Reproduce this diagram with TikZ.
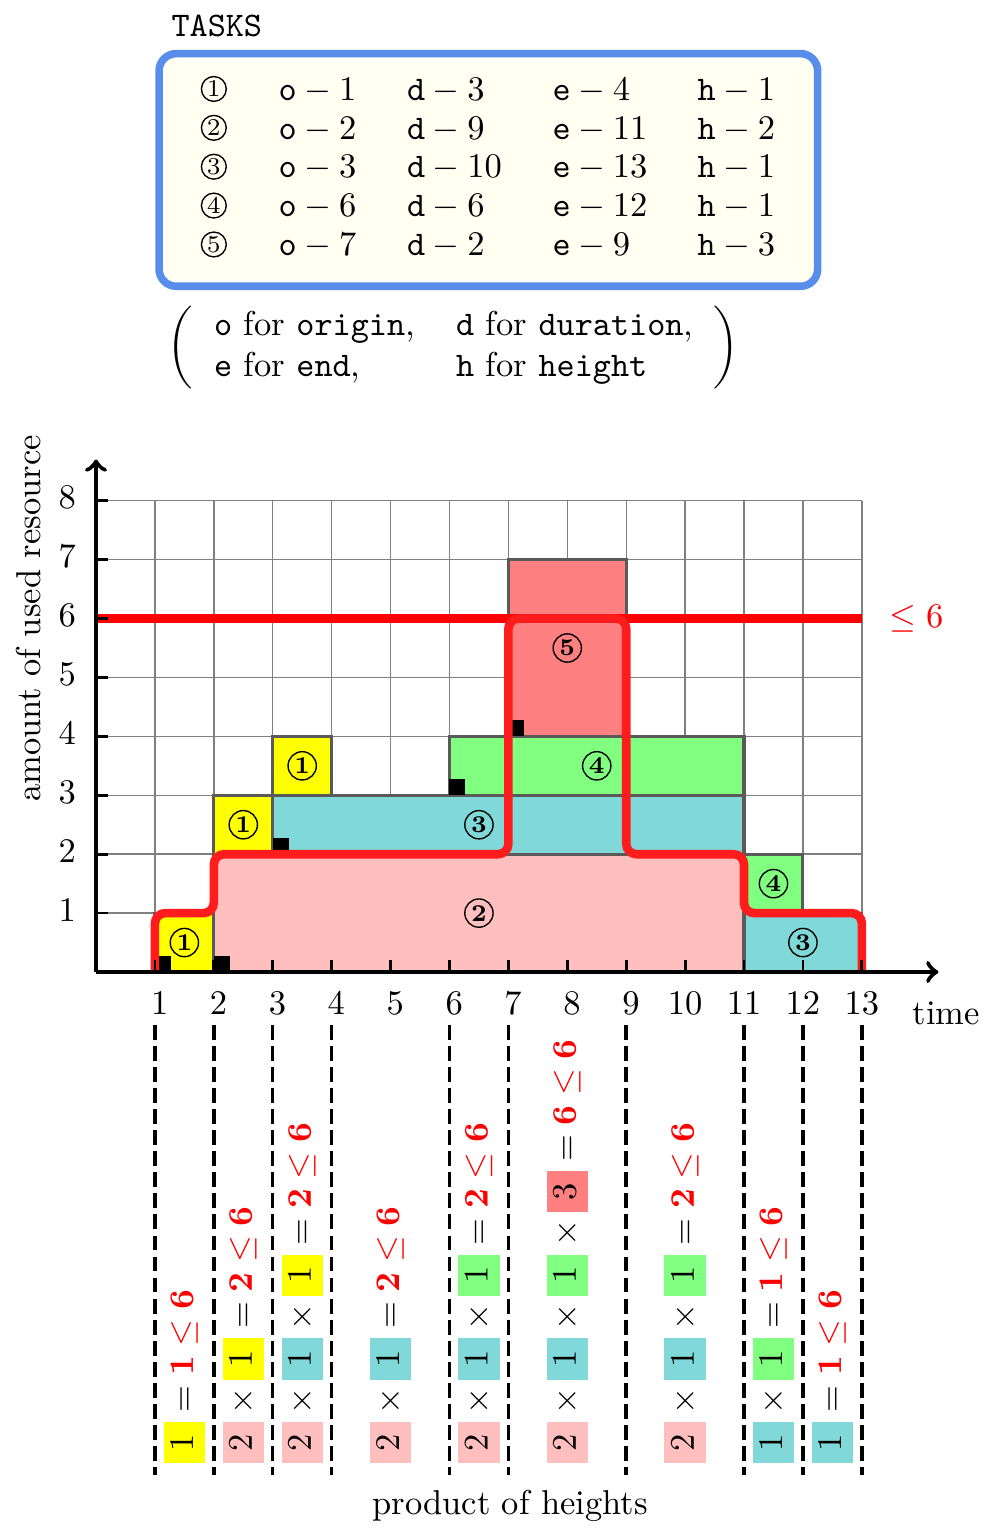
\documentclass[tikz,border=0pt]{standalone}
\usepackage{amsmath}
\definecolor{taskyellow}{RGB}{255,255,0}
\definecolor{taskpink}{RGB}{255,191,191}
\definecolor{taskcyan}{RGB}{128,216,216}
\definecolor{taskgreen}{RGB}{128,255,128}
\definecolor{taskred}{RGB}{255,128,128}
\definecolor{frameblue}{RGB}{88,141,236}
\definecolor{framefill}{RGB}{255,255,242}
\definecolor{profilered}{RGB}{255,28,28}
\definecolor{taskborder}{RGB}{90,90,90}
\newcommand{\hq}[2]{{\setlength{\fboxsep}{0pt}\colorbox{#1}{\makebox[12pt]{\rule[-3.5pt]{0pt}{12pt}\(#2\)}}}}
\tikzset{
    task/.style={draw=taskborder, line width=0.9pt},
    circnum/.style={circle, draw, thin, inner sep=0pt, minimum size=8.2pt, font=\scriptsize\bfseries},
    tabnum/.style={circle, draw, thin, inner sep=0pt, minimum size=7.2pt, font=\scriptsize},
    tabtext/.style={anchor=base west, inner sep=0pt},
    prodcol/.style={rotate=90, anchor=west, inner sep=0pt},
    sepline/.style={line width=1pt, dash pattern=on 4.3pt off 1.8pt}
}
\begin{document}
\begin{tikzpicture}[x=0.6cm, y=0.6cm]
                \useasboundingbox (-1.63,-9.54) rectangle (15.23,16.5);
                \node[tabtext] (title) at (1.27,15.88) {\texttt{TASKS}};
                \draw[frameblue, line width=2.2pt, fill=framefill, rounded corners=5pt] (1.07,11.64) rectangle (12.25,15.59);
                \node[tabnum] (n1) at (2,14.99) {1};
                \node[tabtext] (o1) at (3.09,14.8) {\(\mathtt{o}-1\)};
                \node[tabtext] (d1) at (5.27,14.8) {\(\mathtt{d}-3\)};
                \node[tabtext] (e1) at (7.74,14.8) {\(\mathtt{e}-4\)};
                \node[tabtext] (h1) at (10.2,14.8) {\(\mathtt{h}-1\)};
                \node[tabnum] (n2) at (2,14.33) {2};
                \node[tabtext] (o2) at (3.09,14.14) {\(\mathtt{o}-2\)};
                \node[tabtext] (d2) at (5.27,14.14) {\(\mathtt{d}-9\)};
                \node[tabtext] (e2) at (7.74,14.14) {\(\mathtt{e}-11\)};
                \node[tabtext] (h2) at (10.2,14.14) {\(\mathtt{h}-2\)};
                \node[tabnum] (n3) at (2,13.67) {3};
                \node[tabtext] (o3) at (3.09,13.48) {\(\mathtt{o}-3\)};
                \node[tabtext] (d3) at (5.27,13.48) {\(\mathtt{d}-10\)};
                \node[tabtext] (e3) at (7.74,13.48) {\(\mathtt{e}-13\)};
                \node[tabtext] (h3) at (10.2,13.48) {\(\mathtt{h}-1\)};
                \node[tabnum] (n4) at (2,13.01) {4};
                \node[tabtext] (o4) at (3.09,12.82) {\(\mathtt{o}-6\)};
                \node[tabtext] (d4) at (5.27,12.82) {\(\mathtt{d}-6\)};
                \node[tabtext] (e4) at (7.74,12.82) {\(\mathtt{e}-12\)};
                \node[tabtext] (h4) at (10.2,12.82) {\(\mathtt{h}-1\)};
                \node[tabnum] (n5) at (2,12.35) {5};
                \node[tabtext] (o5) at (3.09,12.16) {\(\mathtt{o}-7\)};
                \node[tabtext] (d5) at (5.27,12.16) {\(\mathtt{d}-2\)};
                \node[tabtext] (e5) at (7.74,12.16) {\(\mathtt{e}-9\)};
                \node[tabtext] (h5) at (10.2,12.16) {\(\mathtt{h}-3\)};
                \node (legend) at (6.07,10.6) {\(\left(\begin{tabular}{ll}
                    \texttt{o} for \texttt{origin}, & \texttt{d} for \texttt{duration},\\
                    \texttt{e} for \texttt{end}, & \texttt{h} for \texttt{height}
                \end{tabular}\right)\)};
                \draw[gray, thin, step=1] (0,0) grid (13,8);
                \draw[task, fill=taskpink] (2,0) rectangle (11,2);
                \draw[task, fill=taskyellow] (1,0) rectangle (2,1);
                \draw[task, fill=taskyellow] (2,2) rectangle (3,3);
                \draw[task, fill=taskyellow] (3,3) rectangle (4,4);
                \draw[task, fill=taskcyan] (3,2) rectangle (11,3);
                \draw[task, fill=taskcyan] (11,0) rectangle (13,1);
                \draw[task, fill=taskgreen] (6,3) rectangle (11,4);
                \draw[task, fill=taskgreen] (11,1) rectangle (12,2);
                \draw[task, fill=taskred] (7,4) rectangle (9,7);
                \fill (1,0) rectangle (1.27,0.27);
                \fill (2,0) rectangle (2.27,0.27);
                \fill (3,2) rectangle (3.27,2.27);
                \fill (6,3) rectangle (6.27,3.27);
                \fill (7,4) rectangle (7.27,4.27);
                \node[circnum] (c1a) at (1.5,0.5) {1};
                \node[circnum] (c1b) at (2.5,2.5) {1};
                \node[circnum] (c1c) at (3.5,3.5) {1};
                \node[circnum] (c2) at (6.5,1) {2};
                \node[circnum] (c3a) at (6.5,2.5) {3};
                \node[circnum] (c3b) at (12,0.5) {3};
                \node[circnum] (c4a) at (8.5,3.5) {4};
                \node[circnum] (c4b) at (11.5,1.5) {4};
                \node[circnum] (c5) at (8,5.5) {5};
                \draw[red, line width=2.4pt] (0,6) -- (13,6);
                \node[red, anchor=west, inner sep=0pt] (limit) at (13.46,6) {\(\leq 6\)};
                \draw[profilered, line width=2.5pt, rounded corners=3pt] (1,0) |- (2,1) |- (7,2) |- (9,6) |- (11,2) |- (13,1) -- (13,0);
                \foreach \x in {1,...,13} \draw[thick] (\x,0) -- (\x,0.2);
                \foreach \y in {1,...,8} \draw[thick] (0,\y) -- (0.2,\y);
                \draw[->, line width=1.3pt] (0,0) -- (14.3,0);
                \draw[->, line width=1.3pt] (0,0) -- (0,8.7);
                \foreach \x in {1,...,9} \node (xl\x) at (\x+0.08,-0.53) {\(\x\)};
                \foreach \x in {10,...,13} \node (xl\x) at (\x,-0.53) {\(\x\)};
                \foreach \y in {1,...,8} \node (yl\y) at (-0.49,\y+0.05) {\(\y\)};
                \node[anchor=west, inner sep=0pt] (time) at (13.85,-0.7) {time};
                \node[rotate=90] (amount) at (-1.15,6) {amount of used resource};
                \foreach \x in {1,2,3,4,6,7,9,11,12,13} \draw[sepline] (\x,-0.9) -- (\x,-8.54);
                \node[prodcol] (p1) at (1.5,-8.35) {\(\hq{taskyellow}{1} = \textcolor{red}{\mathbf{1}\leq\mathbf{6}}\)};
                \node[prodcol] (p2) at (2.5,-8.35) {\(\hq{taskpink}{2} \times \hq{taskyellow}{1} = \textcolor{red}{\mathbf{2}\leq\mathbf{6}}\)};
                \node[prodcol] (p3) at (3.5,-8.35) {\(\hq{taskpink}{2} \times \hq{taskcyan}{1} \times \hq{taskyellow}{1} = \textcolor{red}{\mathbf{2}\leq\mathbf{6}}\)};
                \node[prodcol] (p4) at (5,-8.35) {\(\hq{taskpink}{2} \times \hq{taskcyan}{1} = \textcolor{red}{\mathbf{2}\leq\mathbf{6}}\)};
                \node[prodcol] (p5) at (6.5,-8.35) {\(\hq{taskpink}{2} \times \hq{taskcyan}{1} \times \hq{taskgreen}{1} = \textcolor{red}{\mathbf{2}\leq\mathbf{6}}\)};
                \node[prodcol] (p6) at (8,-8.35) {\(\hq{taskpink}{2} \times \hq{taskcyan}{1} \times \hq{taskgreen}{1} \times \hq{taskred}{3} = \textcolor{red}{\mathbf{6}\leq\mathbf{6}}\)};
                \node[prodcol] (p7) at (10,-8.35) {\(\hq{taskpink}{2} \times \hq{taskcyan}{1} \times \hq{taskgreen}{1} = \textcolor{red}{\mathbf{2}\leq\mathbf{6}}\)};
                \node[prodcol] (p8) at (11.5,-8.35) {\(\hq{taskcyan}{1} \times \hq{taskgreen}{1} = \textcolor{red}{\mathbf{1}\leq\mathbf{6}}\)};
                \node[prodcol] (p9) at (12.5,-8.35) {\(\hq{taskcyan}{1} = \textcolor{red}{\mathbf{1}\leq\mathbf{6}}\)};
                \node (product) at (7.03,-9.07) {product of heights};
\end{tikzpicture}
\end{document}
